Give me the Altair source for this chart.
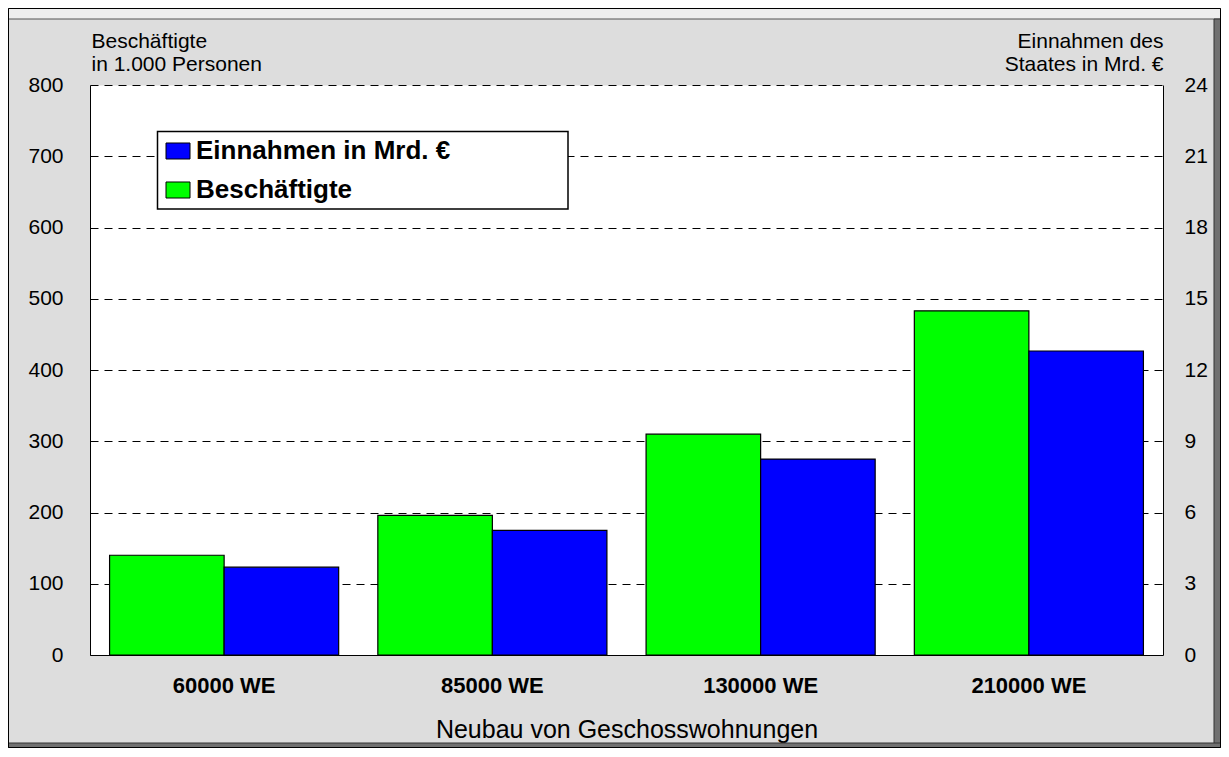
import altair as alt
import pandas as pd

# ---- data ----
categories = ["60000 WE", "85000 WE", "130000 WE", "210000 WE"]
beschaeftigte = [140, 196, 310, 483]          # left axis, in 1.000 Personen
einnahmen = [3.7, 5.25, 8.25, 12.8]           # right axis, in Mrd. €
left_ticks = [0, 100, 200, 300, 400, 500, 600, 700, 800]
right_ticks = [0, 3, 6, 9, 12, 15, 18, 21, 24]
series_names = ["Einnahmen in Mrd. €", "Beschäftigte"]
series_colors = ["#0000FF", "#00FF00"]
offset_order = ["Beschäftigte", "Einnahmen in Mrd. €"]
left_title = ["Beschäftigte", "in 1.000 Personen"]
right_title = ["Einnahmen des", "Staates in Mrd. €"]
x_title = "Neubau von Geschosswohnungen"

FONT = "Liberation Sans"
W, H = 1073, 570
PAD = {"left": 82, "top": 77, "right": 58, "bottom": 93}

df_b = pd.DataFrame({"cat": categories, "value": beschaeftigte, "series": "Beschäftigte"})
df_e = pd.DataFrame({"cat": categories, "value": einnahmen, "series": "Einnahmen in Mrd. €"})
one = pd.DataFrame({"d": [0]})

x_enc = alt.X(
    "cat:N", sort=categories,
    scale=alt.Scale(paddingInner=0.146, paddingOuter=0.073),
    axis=alt.Axis(
        title=x_title, labelAngle=0, labelFontSize=22, labelFontWeight="bold",
        labelBaseline="middle", labelPadding=30, ticks=False, tickSize=0,
        domainColor="black", domainWidth=1,
        titleFontSize=25, titleFontWeight="normal", titleBaseline="middle", titleY=74,
    ),
)
xoff = alt.XOffset("series:N", scale=alt.Scale(domain=offset_order))
color = alt.Color(
    "series:N",
    scale=alt.Scale(domain=series_names, range=series_colors),
    legend=alt.Legend(
        title=None, orient="none", legendX=75, legendY=53, padding=0,
        symbolType="M-1,-0.667H1V0.667H-1Z", symbolSize=576,
        symbolStrokeColor="black", symbolStrokeWidth=1, symbolOpacity=1,
        labelFont=FONT, labelFontSize=26, labelFontWeight="bold", labelColor="black",
        labelOffset=5, rowPadding=13, labelLimit=400,
    ),
)

bars_b = alt.Chart(df_b).mark_bar(stroke="black", strokeWidth=1.2).encode(
    x=x_enc, xOffset=xoff, color=color,
    y=alt.Y(
        "value:Q", scale=alt.Scale(domain=[0, 800], nice=False),
        axis=alt.Axis(
            values=left_ticks, grid=True, gridColor="black", gridDash=[8, 6], gridWidth=1,
            gridOpacity=1, ticks=False, tickSize=0, labelFontSize=21, labelPadding=27,
            domainColor="black", zindex=0,
            title=left_title, titleAngle=0, titleAlign="left", titleBaseline="top",
            titleX=1, titleY=-55, titleFontSize=21, titleFontWeight="normal", titleLineHeight=23,
        ),
    ),
)
bars_e = alt.Chart(df_e).mark_bar(stroke="black", strokeWidth=1.2).encode(
    x=x_enc, xOffset=xoff, color=color,
    y=alt.Y(
        "value:Q", scale=alt.Scale(domain=[0, 24], nice=False),
        axis=alt.Axis(
            orient="right", values=right_ticks, grid=False, ticks=False, tickSize=0,
            labelFontSize=21, labelPadding=21, labelAlign="left", domainColor="black",
            title=right_title, titleAngle=0, titleAlign="right", titleBaseline="top",
            titleX=0, titleY=-55, titleFontSize=21, titleFontWeight="normal", titleLineHeight=23,
        ),
    ),
)

# ---- frame decorations (panel bevel) and legend box ----
def box(x, x2, y, y2, **kw):
    return alt.Chart(one).mark_rect(**kw).encode(
        x=alt.value(x), x2=alt.value(x2), y=alt.value(y), y2=alt.value(y2)
    )

top_band = box(-82, 1131, -77, -66, fill="#EEEEEE", stroke="#555555", strokeWidth=1)
right_band = box(1124, 1131, -66, 663, fill="#707070", stroke="#333333", strokeWidth=1)
bottom_band = box(-82, 1131, 658, 663, fill="#707070", stroke="#333333", strokeWidth=1)
outline = box(-81.5, 1130.5, -76.5, 662.5, fill="transparent", stroke="black", strokeWidth=1)
legend_box = box(67.5, 478, 46.5, 124, fill="white", stroke="black", strokeWidth=1.5)

chart = (
    alt.layer(top_band, right_band, bottom_band, outline, legend_box, bars_b, bars_e)
    .resolve_scale(y="independent")
    .properties(
        width=W, height=H, padding=PAD,
        autosize=alt.AutoSizeParams(type="none"),
        background="#DDDDDD",
    )
    .configure_axis(labelFont=FONT, titleFont=FONT, labelColor="black", titleColor="black")
    .configure_view(fill="white", stroke="transparent")
)

chart.save("out.html", embed_options={"renderer": "svg", "actions": False})
